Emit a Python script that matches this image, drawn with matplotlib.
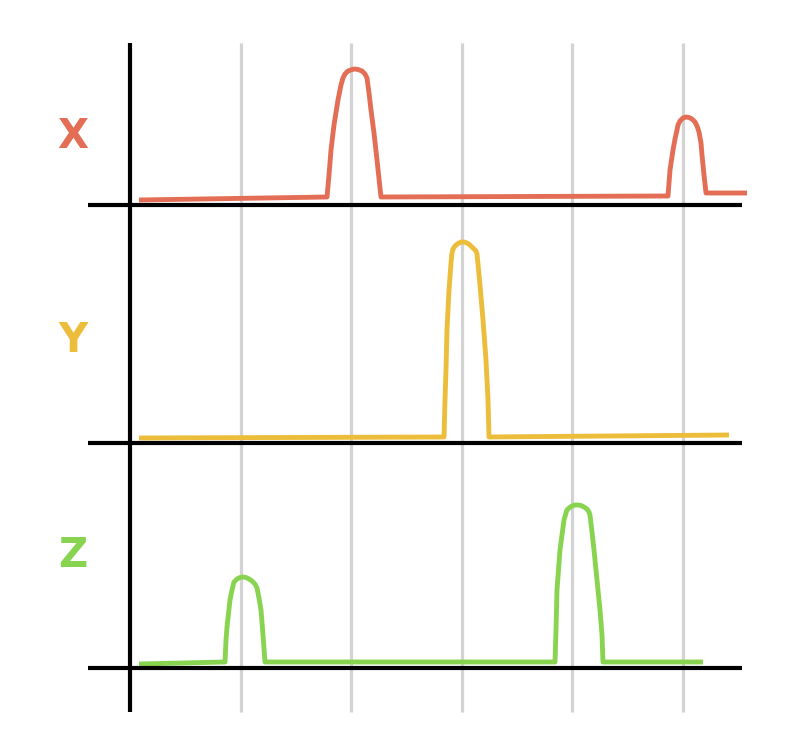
import matplotlib
matplotlib.use("Agg")
import matplotlib.pyplot as plt
import numpy as np

# ---- data (x in pixel-read positions, y = height above each panel's baseline) ----
labels = ["X", "Y", "Z"]
colors = ["#E36E55", "#EBBD3B", "#88D450"]

x_px_X = [139, 327, 329, 331, 334, 338, 341, 343, 345, 348, 352, 355, 358, 362, 365, 367,
          369, 371, 374, 377, 381,
          668, 670, 673, 675, 677, 678, 680, 683, 686, 689, 692, 695, 697, 699, 701, 702, 704, 706, 747]
h_X = [5, 8, 30, 55, 80, 105, 120, 127, 131, 134, 135.5, 136, 135.5, 134, 131, 127,
       112, 95, 72, 45, 8,
       9, 35, 55, 66, 75, 80, 84, 87, 88, 87.5, 86, 83, 79, 73, 62, 50, 30, 12, 12]

x_px_Y = [139, 444, 445, 446, 447, 449, 451, 452, 453, 455, 458, 461, 464, 467, 470, 473, 476, 477,
          480, 483, 486, 488, 489, 729]
h_Y = [5, 6, 43, 73, 113, 153, 180, 190, 194, 197, 199.5, 201, 201, 200, 198, 195, 192, 189,
       158, 123, 83, 43, 6, 8]

x_px_Z = [139, 225, 226, 227, 230, 232, 233, 234, 237, 240, 243, 246, 249, 252, 255, 257,
          259, 261, 263, 265,
          555, 556, 557, 560, 564, 566, 567, 569, 572, 575, 578, 581, 584, 587, 589, 590,
          592, 594, 597, 600, 602, 603, 703]
h_Z = [4, 6, 28, 41, 68, 78, 82, 86, 89, 90.5, 91, 90.5, 89, 87, 84, 80,
       70, 58, 33, 6,
       6, 38, 78, 118, 148, 155, 158, 160, 162, 163, 163, 162.5, 161, 159, 156, 153,
       136, 118, 88, 58, 33, 6, 6]

grid_x = [1, 2, 3, 4, 5]

# ---- layout ----
X0_PX, UNIT_PX = 130.0, 110.6
def xd(px):
    return (np.asarray(px, dtype=float) - X0_PX) / UNIT_PX

baselines_px = [205, 443, 668]
offsets = [668 - b for b in baselines_px]

fig = plt.figure(figsize=(8.04, 7.38), dpi=100)
ax = fig.add_axes([0, 0, 1, 1])
ax.set_xlim(xd(0), xd(804))
ax.set_ylim(668 - 738, 668)
ax.axis("off")

ytop, ybot = 668 - 43, 668 - 712
for gx in grid_x:
    ax.plot([gx, gx], [ybot, ytop], color="#d3d3d3", lw=2.3, zorder=1, solid_capstyle="butt")

ax.plot([0, 0], [ybot, ytop], color="black", lw=3.0, zorder=3, solid_capstyle="butt")
for off in offsets:
    ax.plot([xd(88), xd(742)], [off, off], color="black", lw=3.0, zorder=3, solid_capstyle="butt")

series = [(x_px_X, h_X), (x_px_Y, h_Y), (x_px_Z, h_Z)]
label_y_px = [137, 341, 556]
for (xs, hs), off, col, lab, ly in zip(series, offsets, colors, labels, label_y_px):
    ax.plot(xd(xs), np.asarray(hs) + off, color=col, lw=3.5, zorder=2,
            solid_joinstyle="round", solid_capstyle="butt")
    ax.text(xd(73), 668 - ly, lab, color=col, fontsize=29, fontweight="bold",
            ha="center", va="center", family="DejaVu Sans")

fig.savefig("out.png", dpi=100)
